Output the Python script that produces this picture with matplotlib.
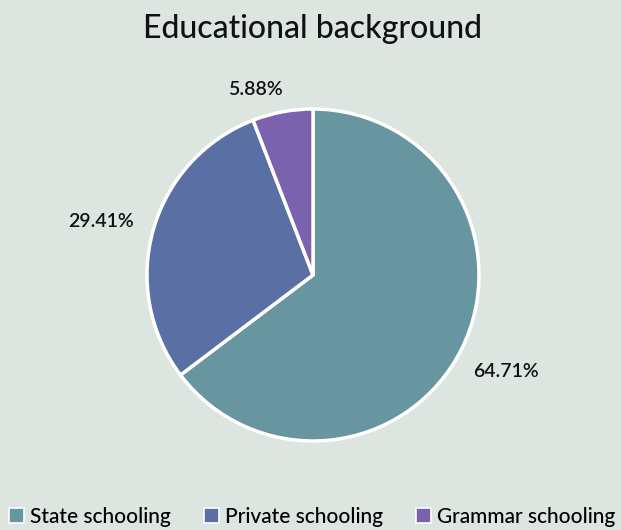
import matplotlib.pyplot as plt
import numpy as np

categories = ['State schooling', 'Private schooling', 'Grammar schooling']
shares = [64.71, 29.41, 5.88]
colors = ['#6795a0', '#5a6fa3', '#7b62ae']

plt.rcParams['font.family'] = ['Lato', 'DejaVu Sans']

fig = plt.figure(figsize=(6.21, 5.30), dpi=100)
fig.patch.set_facecolor('#dde5e0')

# pie centre ~ (313, 275) px, radius ~166 px
cx, cy, r = 313, 275, 166
ax = fig.add_axes([(cx - r) / 621, (530 - cy - r) / 530, 2 * r / 621, 2 * r / 530])
ax.set_facecolor('none')

wedges, texts, autotexts = ax.pie(
    shares, colors=colors, startangle=90, counterclock=False,
    autopct='%.2f%%', pctdistance=1.3, radius=1,
    wedgeprops=dict(edgecolor='white', linewidth=2.5),
    textprops=dict(fontsize=14, color='#111111', fontweight='semibold'))
# small slice label sits up-left of the slice
autotexts[2].set_position((-0.35, 1.12))
autotexts[1].set_position((-1.28, 0.32))
ax.set_xlim(-1, 1)
ax.set_ylim(-1, 1)
ax.set_aspect('equal')

fig.text(0.503, 0.945, 'Educational background', ha='center', va='center',
         fontsize=23, color='#111111', fontweight='medium')

handles = [plt.Rectangle((0, 0), 1, 1, facecolor=c, edgecolor='white', linewidth=1.2)
           for c in colors]
fig.legend(handles, categories, loc='center', bbox_to_anchor=(0.503, 0.025),
           ncol=3, frameon=False, fontsize=15, handlelength=0.7, handleheight=0.7,
           handletextpad=0.3, columnspacing=1.6, borderaxespad=0,
           prop=dict(size=15, weight='medium'))

fig.savefig('out.png', dpi=100, facecolor=fig.get_facecolor())
